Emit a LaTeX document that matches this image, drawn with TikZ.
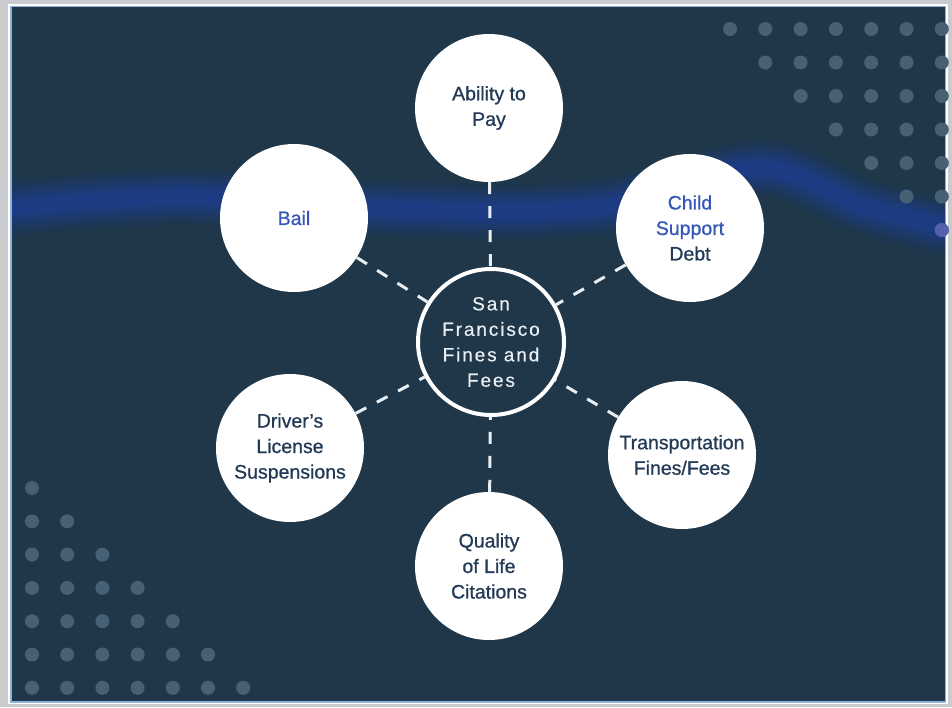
\documentclass[tikz,border=0pt]{standalone}
\usepackage{fontspec}
\setmainfont{Liberation Sans}
\newfontfamily\topicfont[Ligatures=TeX, FakeBold=0.8]{Liberation Sans}
\newfontfamily\hubfont[LetterSpace=10, FakeBold=0.5]{Liberation Sans}
\definecolor{bgnavy}{HTML}{1F3749}
\definecolor{framegrey}{HTML}{C9CBCE}
\definecolor{frameblue}{HTML}{8FB2D8}
\definecolor{bandblue}{HTML}{1C3F9E}
\definecolor{dotgrey}{HTML}{486073}
\definecolor{dotblue}{HTML}{5660B0}
\definecolor{textnavy}{HTML}{233A56}
\definecolor{textblue}{HTML}{3558B8}
\definecolor{hubwhite}{HTML}{E8EEF2}

\begin{document}
\begin{tikzpicture}[x=1pt,y=-1pt,
    topic/.style={circle, fill=white, minimum size=148pt, inner sep=0pt,
      align=center, text=textnavy, font=\topicfont\fontsize{19.5}{25.5}\selectfont},
    hubring/.style={circle, draw=white, line width=4pt, fill=bgnavy,
      minimum size=146pt, inner sep=0pt, align=center, text=hubwhite,
      font=\hubfont\fontsize{19}{25.5}\selectfont},
    link/.style={draw=hubwhite, line width=3pt, dash pattern=on 12pt off 12pt},
    dot/.style={fill=dotgrey}]
    \useasboundingbox (0,0) rectangle (952,707);
    % frame
    \fill[framegrey] (0,0) rectangle (952,707);
    \fill[white] (8,4) rectangle (948,704);
    \fill[frameblue] (10,5.5) rectangle (946,702.5);
    \fill[bgnavy] (12,7) rectangle (945,701);
    % blue band
    \begin{scope}
        \clip (12,7) rectangle (945,701);
        \foreach \w/\o in {56/0.1, 46/0.15, 36/0.2, 26/0.25, 16/0.3}
            \draw[bandblue, line width=\w pt, opacity=\o, line cap=round]
                plot[smooth] coordinates {(0,209) (180,197) (420,210) (600,207)
                    (760,168) (865,207) (960,230)};
    \end{scope}
    % dots
    \foreach \i in {0,...,6}
        \foreach \j in {\i,...,6}
            \fill[dot] ({730+35.3*\j},{29+33.5*\i}) circle [radius=7];
    \fill[dotblue] ({730+35.3*6},{29+33.5*6}) circle [radius=7];
    \foreach \i in {0,...,6}
        \foreach \j in {0,...,\i}
            \fill[dot] ({32+35.2*\j},{488+33.3*\i}) circle [radius=7];
    % circles
    \node[hubring] (hub) at (491,342) {San\\Francisco\\Fines and\\Fees};
    \node[topic] (pay) at (489,108) {Ability to\\Pay};
    \node[topic, text=textblue] (bail) at (294,218) {Bail};
    \node[topic] (child) at (690,228)
        {\textcolor{textblue}{Child}\\\textcolor{textblue}{Support}\\Debt};
    \node[topic] (license) at (290,448) {Driver’s\\License\\Suspensions};
    \node[topic] (transit) at (682,455) {Transportation\\Fines/Fees};
    \node[topic] (quality) at (489,566) {Quality\\of Life\\Citations};
    % dashed links
    \foreach \s in {pay,bail,child,license,transit,quality}
        \draw[link] (\s) -- (hub);
\end{tikzpicture}
\end{document}
